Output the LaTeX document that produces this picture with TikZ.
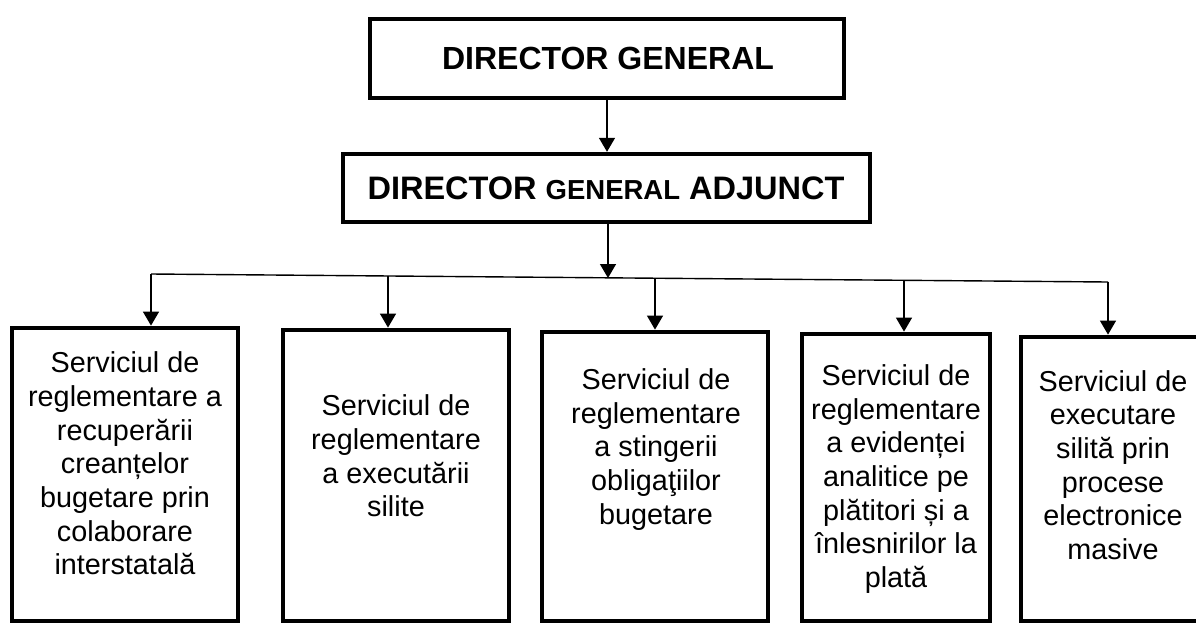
\documentclass[tikz,border=0pt]{standalone}
\usepackage{fontspec}
\setmainfont{Liberation Sans}
\usetikzlibrary{arrows.meta}
\begin{document}
\begin{tikzpicture}[x=1pt,y=-1pt,
  topbox/.style={draw, line width=4.4pt, inner sep=0pt},
  unitbox/.style={draw, line width=4.8pt, inner sep=0pt},
  unittext/.style={align=center, inner sep=0pt, font=\fontsize{28.8}{33.7}\selectfont},
  arr/.style={line width=1.4pt, -{Triangle[length=14pt,width=16pt]}},
  bus/.style={line width=1.4pt}]
\useasboundingbox (0,0) rectangle (1196,624);

% top boxes
\node[topbox, minimum width=474pt, minimum height=79pt] (dg) at (607,58.5) {};
\node[inner sep=0pt, font=\fontsize{32}{38}\selectfont\bfseries] (dgt) at (608,58) {DIRECTOR GENERAL};
\node[topbox, minimum width=527pt, minimum height=68pt] (dga) at (606.5,188) {};
\node[inner sep=0pt, font=\fontsize{32.5}{38}\selectfont\bfseries] (dgat) at (606,188)
  {DIRECTOR {\fontsize{27.5}{32}\selectfont GENERAL} ADJUNCT};

% unit boxes
\node[unitbox, minimum width=226pt, minimum height=293pt] (b1) at (125,474.5) {};
\node[unitbox, minimum width=226pt, minimum height=291pt] (b2) at (396,475.5) {};
\node[unitbox, minimum width=226pt, minimum height=289pt] (b3) at (655,476.5) {};
\node[unitbox, minimum width=188pt, minimum height=287pt] (b4) at (896,477.5) {};
\node[unitbox, minimum width=184pt, minimum height=284pt] (b5) at (1113,479) {};

\node[unittext] (t1) at (125,463.5) {Serviciul de\\reglementare a\\recuperării\\creanțelor\\bugetare prin\\colaborare\\interstatală};
\node[unittext] (t2) at (396,456) {Serviciul de\\reglementare\\a executării\\silite};
\node[unittext] (t3) at (656,449.5) {Serviciul de\\reglementare\\a stingerii\\obligaţiilor\\bugetare};
\node[unittext] (t4) at (896,479) {Serviciul de\\reglementare\\a evidenței\\analitice pe\\plătitori și a\\înlesnirilor la\\plată};
\node[unittext] (t5) at (1113,465) {Serviciul de\\executare\\silită prin\\procese\\electronice\\masive};

% connectors
\draw[arr] (dg.south) -- (dg.south |- dga.north);
\coordinate (busL) at (151,274);
\coordinate (busR) at (1108,282);
\coordinate (busM) at (608,278);
\coordinate (d2) at (388,276);
\coordinate (d3) at (655,278.2);
\coordinate (d4) at (904,280.3);
\draw[arr] (dga.south -| busM) -- (busM);
\draw[bus] (busL) -- (busR);
\draw[arr] (busL) -- (busL |- b1.north);
\draw[arr] (d2) -- (d2 |- b2.north);
\draw[arr] (d3) -- (d3 |- b3.north);
\draw[arr] (d4) -- (d4 |- b4.north);
\draw[arr] (busR) -- (busR |- b5.north);
\end{tikzpicture}
\end{document}
